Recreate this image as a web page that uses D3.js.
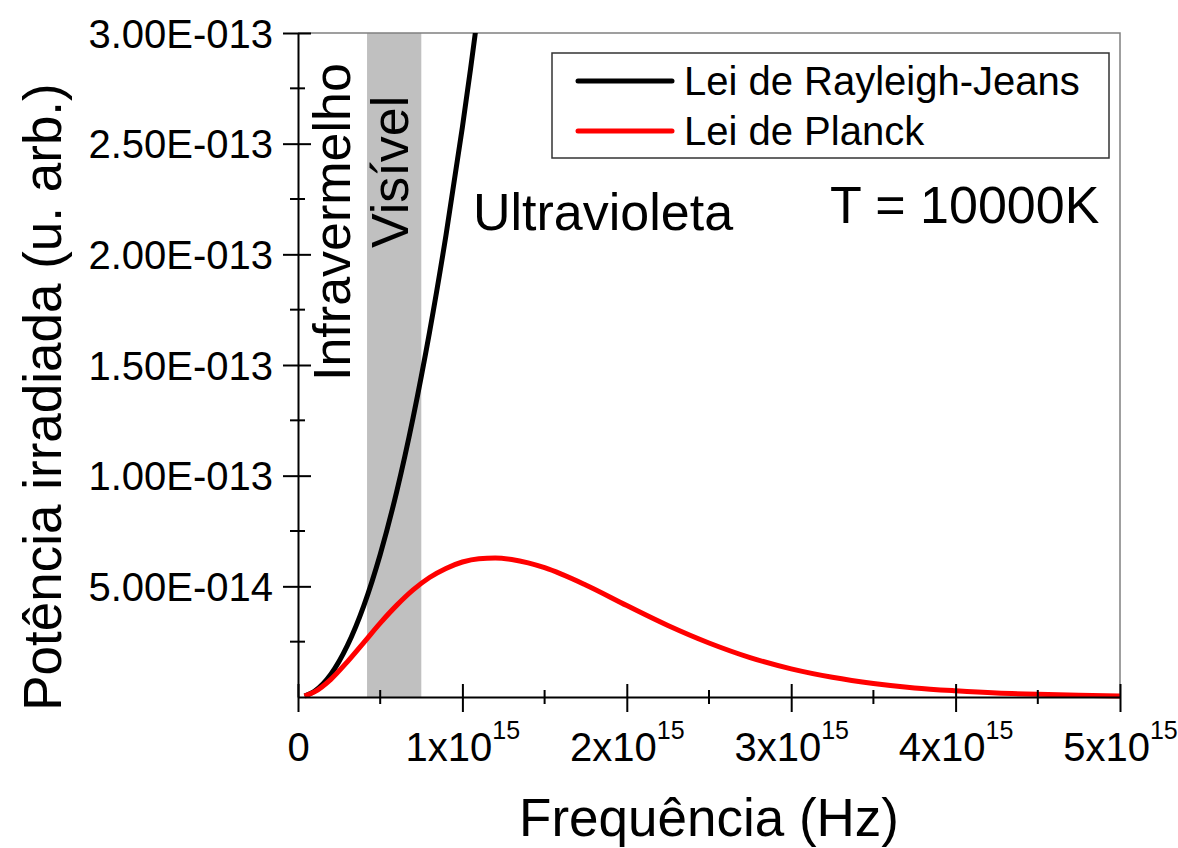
<!DOCTYPE html>
<html>
<head>
<meta charset="utf-8">
<script src="https://cdn.jsdelivr.net/npm/d3@7"></script>
<style>
  body { margin: 0; background: #fff; }
  text { font-family: "Liberation Sans", Arial, sans-serif; fill: #000; }
</style>
</head>
<body>
<div id="container"></div>
<script>
/**
 * DATA
 * frequencies in units of 1e15 Hz, power in units of 1e-14
 * */
const freqPlanck = [0.04, 0.1, 0.2, 0.3, 0.4, 0.5, 0.6, 0.7, 0.8, 0.9, 1.0, 1.1, 1.2, 1.3, 1.4, 1.5,
  1.75, 2.0, 2.25, 2.5, 2.75, 3.0, 3.25, 3.5, 3.75, 4.0, 4.25, 4.5, 4.75, 5.0];
const powerPlanck = [0.04, 0.23, 0.80, 1.59, 2.46, 3.34, 4.14, 4.84, 5.40, 5.81, 6.10, 6.25, 6.28, 6.21, 6.06, 5.84,
  5.06, 4.13, 3.23, 2.44, 1.78, 1.27, 0.89, 0.61, 0.41, 0.28, 0.18, 0.12, 0.08, 0.05];

const freqRJ = [0.04, 0.1, 0.2, 0.3, 0.4, 0.5, 0.6, 0.7, 0.8, 0.9, 1.0, 1.05, 1.1];
const powerRJ = [0.04, 0.26, 1.03, 2.32, 4.12, 6.44, 9.27, 12.62, 16.48, 20.86, 25.75, 28.4, 31.2];

const visibleBand = [0.42e15, 0.75e15];

const xMajor = [0, 1e15, 2e15, 3e15, 4e15, 5e15];
const xMinor = [0.5e15, 1.5e15, 2.5e15, 3.5e15, 4.5e15];
const xTickMain = ["0", "1x10", "2x10", "3x10", "4x10", "5x10"];
const xTickSup = ["", "15", "15", "15", "15", "15"];

const yMajor = [5e-14, 1e-13, 1.5e-13, 2e-13, 2.5e-13, 3e-13];
const yMinor = [2.5e-14, 7.5e-14, 1.25e-13, 1.75e-13, 2.25e-13, 2.75e-13];
const yTickLabels = ["5.00E-014", "1.00E-013", "1.50E-013", "2.00E-013", "2.50E-013", "3.00E-013"];

const legendNames = ["Lei de Rayleigh-Jeans", "Lei de Planck"];
const legendColors = ["#000", "#ff0000"];

/**
 * CONSTANTS
 * */
const width = 1178,
  height = 848,
  margin = { top: 33, bottom: 151, left: 298, right: 58 };

const innerW = width - margin.left - margin.right,
  innerH = height - margin.top - margin.bottom;

const svg = d3.select("#container")
  .append("svg")
  .attr("width", width)
  .attr("height", height);

const x = d3.scaleLinear().domain([0, 5e15]).range([0, innerW]);
const y = d3.scaleLinear().domain([0, 3e-13]).range([innerH, 0]);

const g = svg.append("g")
  .attr("transform", `translate(${margin.left},${margin.top})`);

g.append("clipPath").attr("id", "clip")
  .append("rect").attr("width", innerW).attr("height", innerH);

// visible band
g.append("rect")
  .attr("x", x(visibleBand[0]))
  .attr("y", 0)
  .attr("width", x(visibleBand[1]) - x(visibleBand[0]))
  .attr("height", innerH)
  .attr("fill", "#c0c0c0");

// frame top + right
g.append("path")
  .attr("d", `M0,0H${innerW}V${innerH}`)
  .attr("fill", "none")
  .attr("stroke", "#808080")
  .attr("stroke-width", 1.5);

// curves
const line = d3.line()
  .x(d => x(d[0] * 1e15))
  .y(d => y(d[1] * 1e-14))
  .curve(d3.curveMonotoneX);

g.append("path")
  .datum(freqRJ.map((f, i) => [f, powerRJ[i]]))
  .attr("clip-path", "url(#clip)")
  .attr("d", line)
  .attr("fill", "none")
  .attr("stroke", legendColors[0])
  .attr("stroke-width", 5);

g.append("path")
  .datum(freqPlanck.map((f, i) => [f, powerPlanck[i]]))
  .attr("d", line)
  .attr("fill", "none")
  .attr("stroke", legendColors[1])
  .attr("stroke-width", 5);

// y axis
const yAxis = g.append("g")
  .call(d3.axisLeft(y).tickValues(yMajor).tickFormat((d, i) => yTickLabels[i])
    .tickSize(15).tickSizeOuter(0).tickPadding(10));
yAxis.select(".domain").attr("stroke-width", 2);
yAxis.selectAll(".tick line").attr("x1", 13).attr("stroke-width", 2);
yAxis.selectAll(".tick text").attr("font-size", 40).attr("font-family", null).attr("dy", "0.35em");

g.selectAll("line.yminor")
  .data(yMinor)
  .join("line")
  .attr("class", "yminor")
  .attr("x1", -8).attr("x2", 7)
  .attr("y1", d => y(d)).attr("y2", d => y(d))
  .attr("stroke", "#000").attr("stroke-width", 2);

// x axis
const xAxis = g.append("g")
  .attr("transform", `translate(0,${innerH})`)
  .call(d3.axisBottom(x).tickValues(xMajor).tickFormat("").tickSize(15).tickSizeOuter(0));
xAxis.select(".domain").attr("stroke-width", 2);
xAxis.selectAll(".tick line").attr("y1", -13).attr("stroke-width", 2);

const xLabels = xAxis.selectAll(".tick text")
  .attr("y", 64)
  .attr("dy", null)
  .attr("font-size", 40)
  .attr("font-family", null);
xLabels.each(function (d, i) {
  const t = d3.select(this);
  t.append("tspan").text(xTickMain[i]);
  if (xTickSup[i]) {
    t.append("tspan").attr("dy", -22).attr("font-size", 25).text(xTickSup[i]);
  }
});

g.selectAll("line.xminor")
  .data(xMinor)
  .join("line")
  .attr("class", "xminor")
  .attr("y1", innerH - 7).attr("y2", innerH + 7)
  .attr("x1", d => x(d)).attr("x2", d => x(d))
  .attr("stroke", "#000").attr("stroke-width", 2);

// axis titles
svg.append("text")
  .attr("x", margin.left + innerW / 2)
  .attr("y", 836)
  .attr("text-anchor", "middle")
  .attr("font-size", 53)
  .text("Frequência (Hz)");

svg.append("text")
  .attr("transform", `translate(61,${margin.top + innerH / 2 + 32}) rotate(-90)`)
  .attr("text-anchor", "middle")
  .attr("font-size", 53)
  .text("Potência irradiada (u. arb.)");

// region annotations
svg.append("text")
  .attr("transform", "translate(350,381) rotate(-90)")
  .attr("font-size", 52)
  .text("Infravermelho");

svg.append("text")
  .attr("transform", "translate(408,248) rotate(-90)")
  .attr("font-size", 52)
  .text("Visível");

svg.append("text")
  .attr("x", 473).attr("y", 230)
  .attr("font-size", 52)
  .text("Ultravioleta");

svg.append("text")
  .attr("x", 830).attr("y", 223)
  .attr("font-size", 52)
  .text("T = 10000K");

// legend
const legend = svg.append("g");
legend.append("rect")
  .attr("x", 552).attr("y", 53)
  .attr("width", 557).attr("height", 105)
  .attr("fill", "#fff")
  .attr("stroke", "#333")
  .attr("stroke-width", 1.5);

const items = legend.selectAll("g.item")
  .data(legendNames)
  .join("g")
  .attr("class", "item")
  .attr("transform", (d, i) => `translate(0,${81 + i * 50})`);
items.append("line")
  .attr("x1", 578).attr("x2", 672)
  .attr("stroke", (d, i) => legendColors[i])
  .attr("stroke-width", 5)
  .attr("stroke-linecap", "round");
items.append("text")
  .attr("x", 684).attr("y", 14)
  .attr("font-size", 40)
  .text(d => d);
</script>
</body>
</html>
